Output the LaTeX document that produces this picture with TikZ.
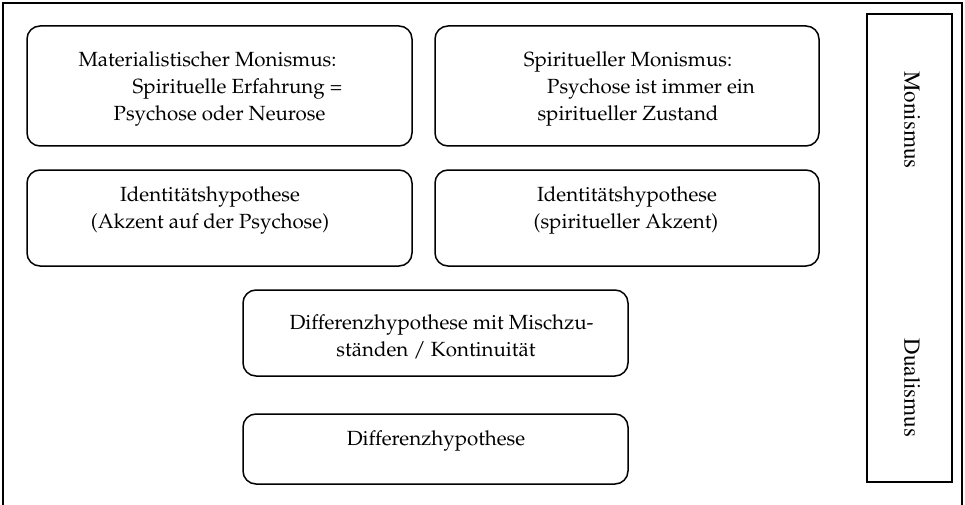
\documentclass[tikz,border=0pt]{standalone}
\usepackage[T1]{fontenc}
\renewcommand{\rmdefault}{ppl}
\begin{document}
\begin{tikzpicture}[x=1pt,y=-1pt,
  box/.style={draw, line width=1.5pt, rounded corners=13pt, inner sep=0pt},
  col/.style={draw, line width=1.5pt, inner sep=0pt},
  txt/.style={anchor=base, inner sep=0pt, font=\fontsize{20.5}{27}\selectfont},
  vtxt/.style={anchor=center, inner sep=0pt, rotate=-90, font=\fontfamily{ptm}\fontsize{23}{27}\selectfont}]
\useasboundingbox (0,0) rectangle (965,505);
\fill[white] (0,0) rectangle (965,505);
% outer frame
\draw[line width=1.5pt] (3,506) -- (3,3) -- (962,3) -- (962,506);
% boxes
\node[box, minimum width=385pt, minimum height=120pt] (b1) at (219.5,86) {};
\node[box, minimum width=384pt, minimum height=120pt] (b2) at (627,86) {};
\node[box, minimum width=385pt, minimum height=96pt] (b3) at (219.5,218) {};
\node[box, minimum width=384pt, minimum height=96pt] (b4) at (627,218) {};
\node[box, minimum width=385pt, minimum height=86pt] (b5) at (435.5,333) {};
\node[box, minimum width=385pt, minimum height=70pt] (b6) at (435.5,449) {};
\node[col, minimum width=85pt, minimum height=468pt] (side) at (909.5,248) {};
% texts
\node[txt] (t1a) at (207.5,67) {Materialistischer Monismus:};
\node[txt] (t1b) at (237.5,94) {Spirituelle Erfahrung =};
\node[txt] (t1c) at (219.5,121) {Psychose oder Neurose};
\node[txt] (t2a) at (628,67) {Spiritueller Monismus:};
\node[txt] (t2b) at (651,94) {Psychose ist immer ein};
\node[txt] (t2c) at (628,121) {spiritueller Zustand};
\node[txt] (t3a) at (210,201) {Identit\"atshypothese};
\node[txt] (t3b) at (210,228) {(Akzent auf der Psychose)};
\node[txt] (t4a) at (627,201) {Identit\"atshypothese};
\node[txt] (t4b) at (626,228) {(spiritueller Akzent)};
\node[txt] (t5a) at (441.5,329) {Differenzhypothese mit Mischzu-};
\node[txt] (t5b) at (436,356) {st\"anden / Kontinuit\"at};
\node[txt] (t6a) at (436,445) {Differenzhypothese};
\node[vtxt] (mon) at (912,120) {Monismus};
\node[vtxt] (dual) at (912,388) {Dualismus};
\end{tikzpicture}
\end{document}
